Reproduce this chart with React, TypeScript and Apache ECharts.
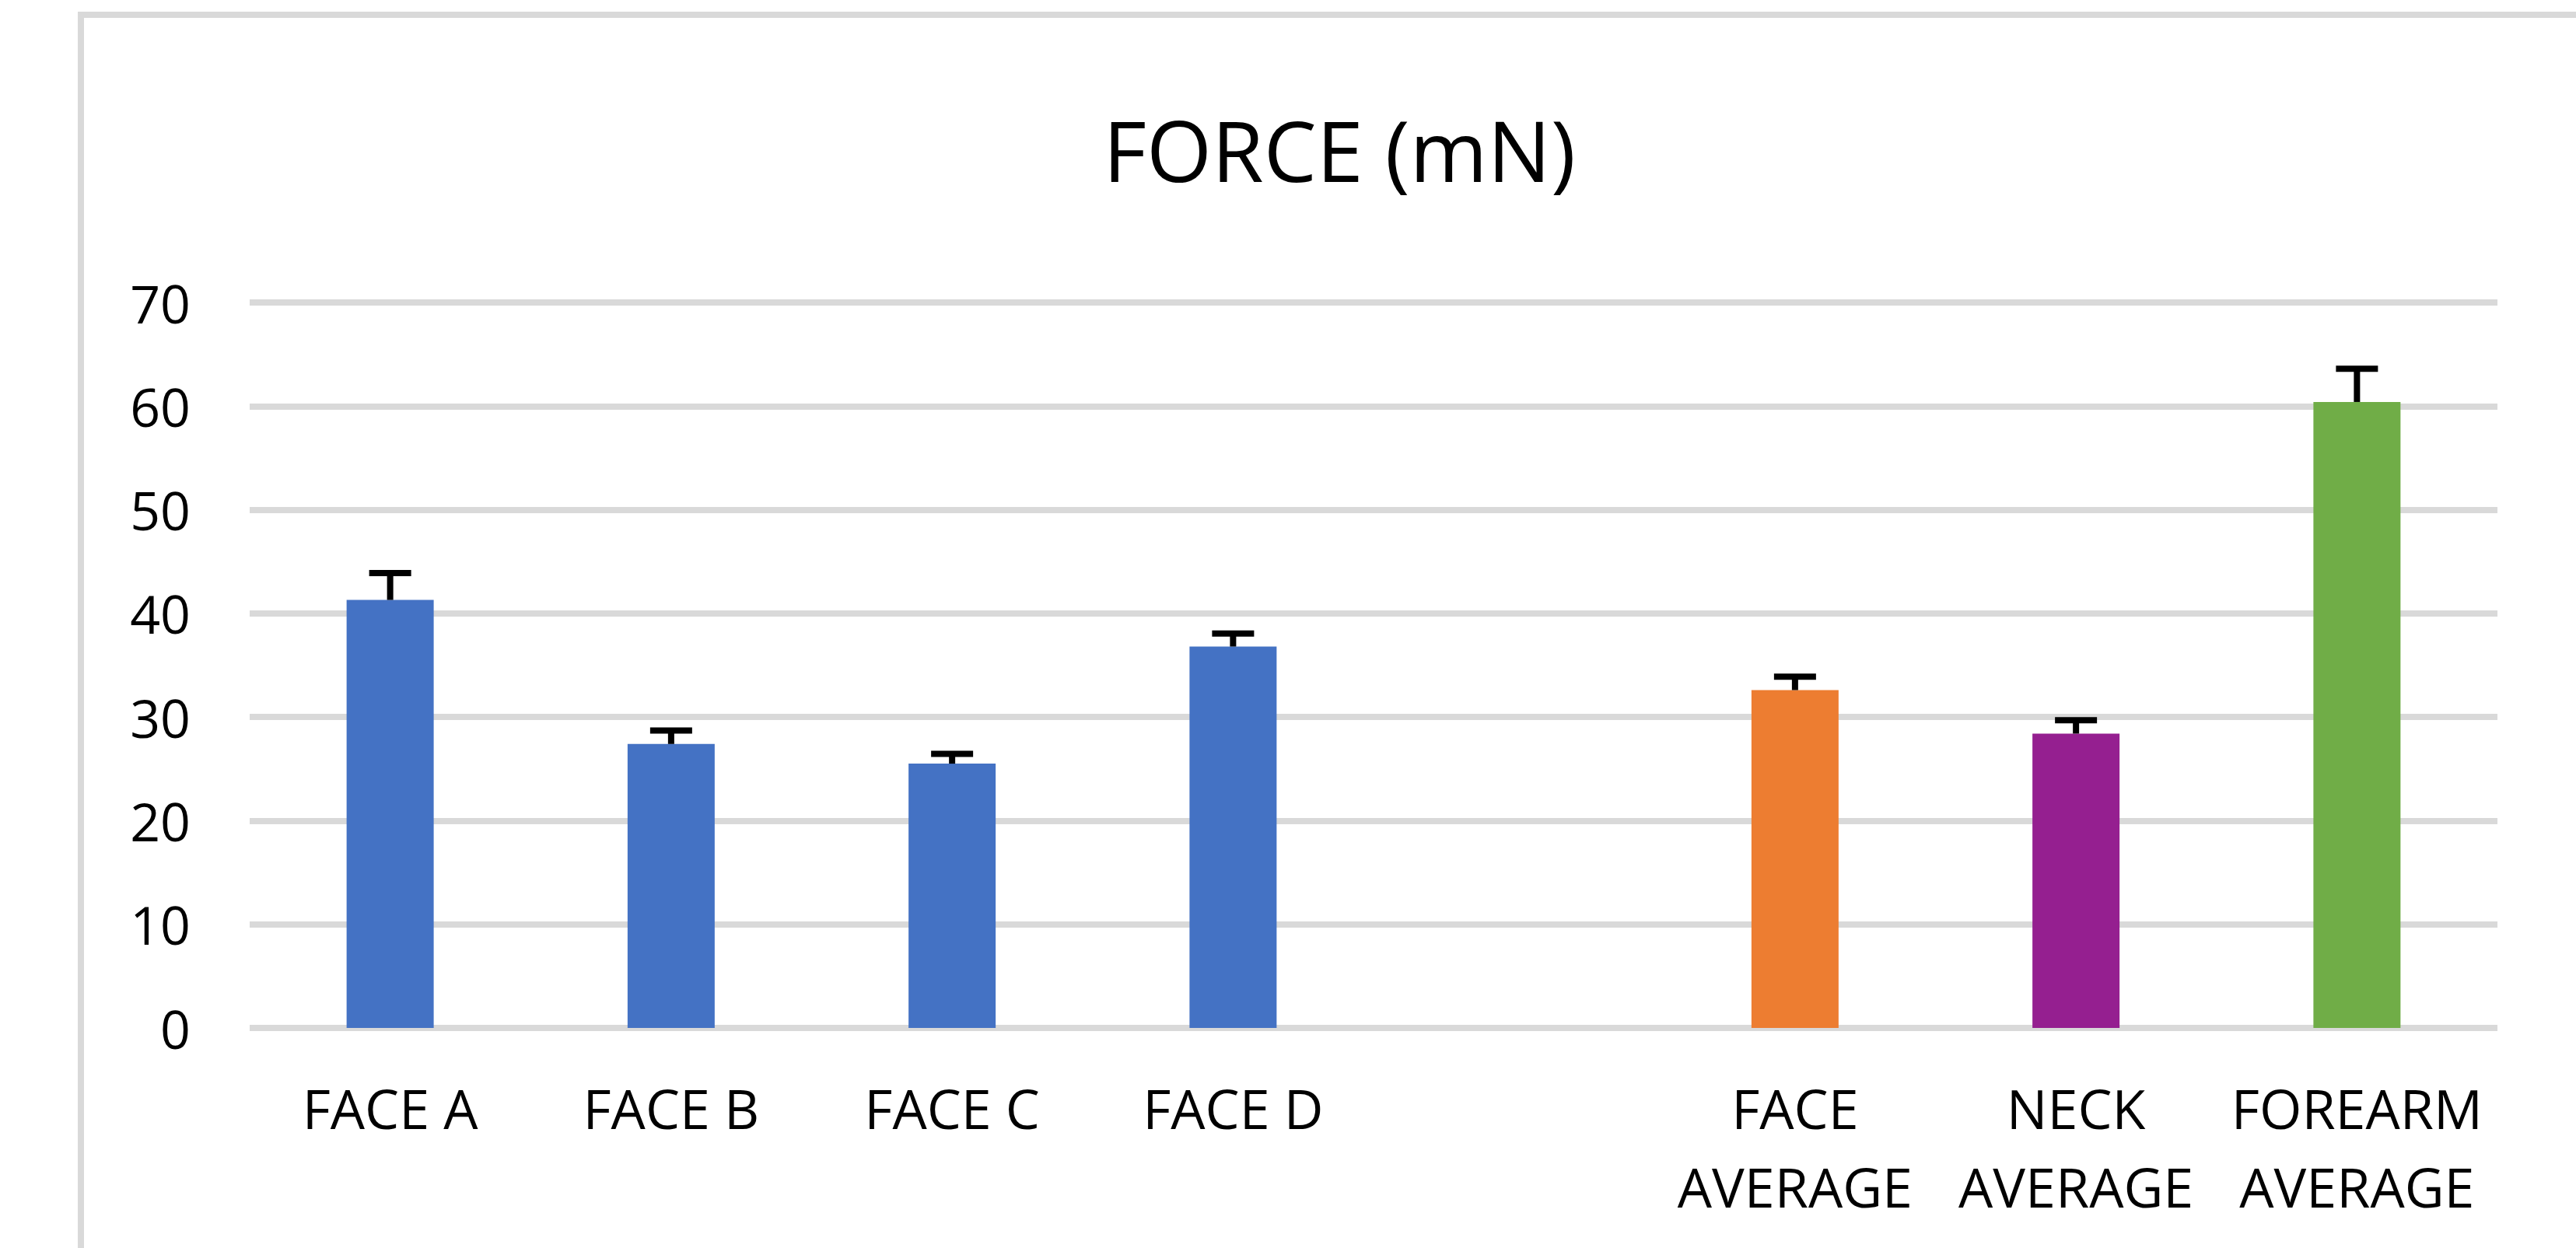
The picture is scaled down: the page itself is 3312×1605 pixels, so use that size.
import React, { useEffect, useRef } from "react";
import * as echarts from "echarts";

const categories = ["FACE A", "FACE B", "FACE C", "FACE D", "", "FACE AVERAGE", "NECK AVERAGE", "FOREARM AVERAGE"];
const values: (number | null)[] = [41.3, 27.4, 25.5, 36.8, null, 32.6, 28.4, 60.4];
const errors: (number | null)[] = [2.6, 1.3, 0.95, 1.25, null, 1.3, 1.3, 3.2];
const barColors = ["#4472C4", "#4472C4", "#4472C4", "#4472C4", "#4472C4", "#ED7D31", "#951F90", "#70AD47"];
const yTicks = { min: 0, max: 70, interval: 10 };
const titleText = "FORCE (mN)";

const FONT = "'Open Sans', sans-serif";

export default function App() {
  const ref = useRef<HTMLDivElement>(null);
  useEffect(() => {
    document.body.style.margin = "0";
    document.body.style.overflow = "hidden";
    const chart = echarts.init(ref.current!, null, { renderer: "svg" });
    const barData = values.map((v, i) =>
      v === null ? "-" : { value: v, itemStyle: { color: barColors[i] } }
    );
    const errData = values.map((v, i) =>
      v === null || errors[i] === null ? [i, "-", "-"] : [i, v, (v as number) + (errors[i] as number)]
    );
    chart.setOption({
      animation: false,
      backgroundColor: "#ffffff",
      title: {
        text: titleText,
        left: 1717,
        top: 133,
        textAlign: "center",
        textStyle: { fontFamily: FONT, fontSize: 108, fontWeight: "normal", color: "#000" },
      },
      graphic: [
        {
          type: "rect",
          shape: { x: 104, y: 19, width: 3600, height: 1800 },
          style: { fill: "none", stroke: "#d9d9d9", lineWidth: 8 },
          silent: true,
        },
      ],
      grid: { left: 321, right: 101, top: 389, bottom: 283, containLabel: false },
      xAxis: {
        type: "category",
        data: categories,
        axisLine: { show: false },
        axisTick: { show: false },
        axisLabel: {
          interval: 0,
          margin: 52,
          fontFamily: FONT,
          fontSize: 70,
          lineHeight: 101,
          color: "#000",
          formatter: (s: string) => s.replace(" AVERAGE", "\nAVERAGE"),
        },
      },
      yAxis: {
        type: "value",
        min: yTicks.min,
        max: yTicks.max,
        interval: yTicks.interval,
        axisLine: { show: false },
        axisTick: { show: false },
        axisLabel: { margin: 76, fontFamily: FONT, fontSize: 68, color: "#000" },
        splitLine: { lineStyle: { color: "#d9d9d9", width: 8 } },
      },
      series: [
        {
          type: "bar",
          data: barData,
          barWidth: "31%",
          z: 2,
        },
        {
          type: "custom",
          data: errData,
          z: 3,
          renderItem: (params: any, api: any) => {
            const lo = api.value(1);
            const hi = api.value(2);
            if (isNaN(lo) || isNaN(hi)) return null;
            const idx = api.value(0);
            const p0 = api.coord([idx, lo]);
            const p1 = api.coord([idx, hi]);
            const half = 27;
            const style = { stroke: "#000", lineWidth: 8 };
            return {
              type: "group",
              children: [
                { type: "line", shape: { x1: p0[0], y1: p0[1], x2: p1[0], y2: p1[1] }, style },
                { type: "line", shape: { x1: p1[0] - half, y1: p1[1], x2: p1[0] + half, y2: p1[1] }, style },
              ],
            };
          },
        },
      ],
    });
    return () => chart.dispose();
  }, []);
  return <div ref={ref} style={{ position: "absolute", left: 0, top: 0, width: 3312, height: 1605 }} />;
}
